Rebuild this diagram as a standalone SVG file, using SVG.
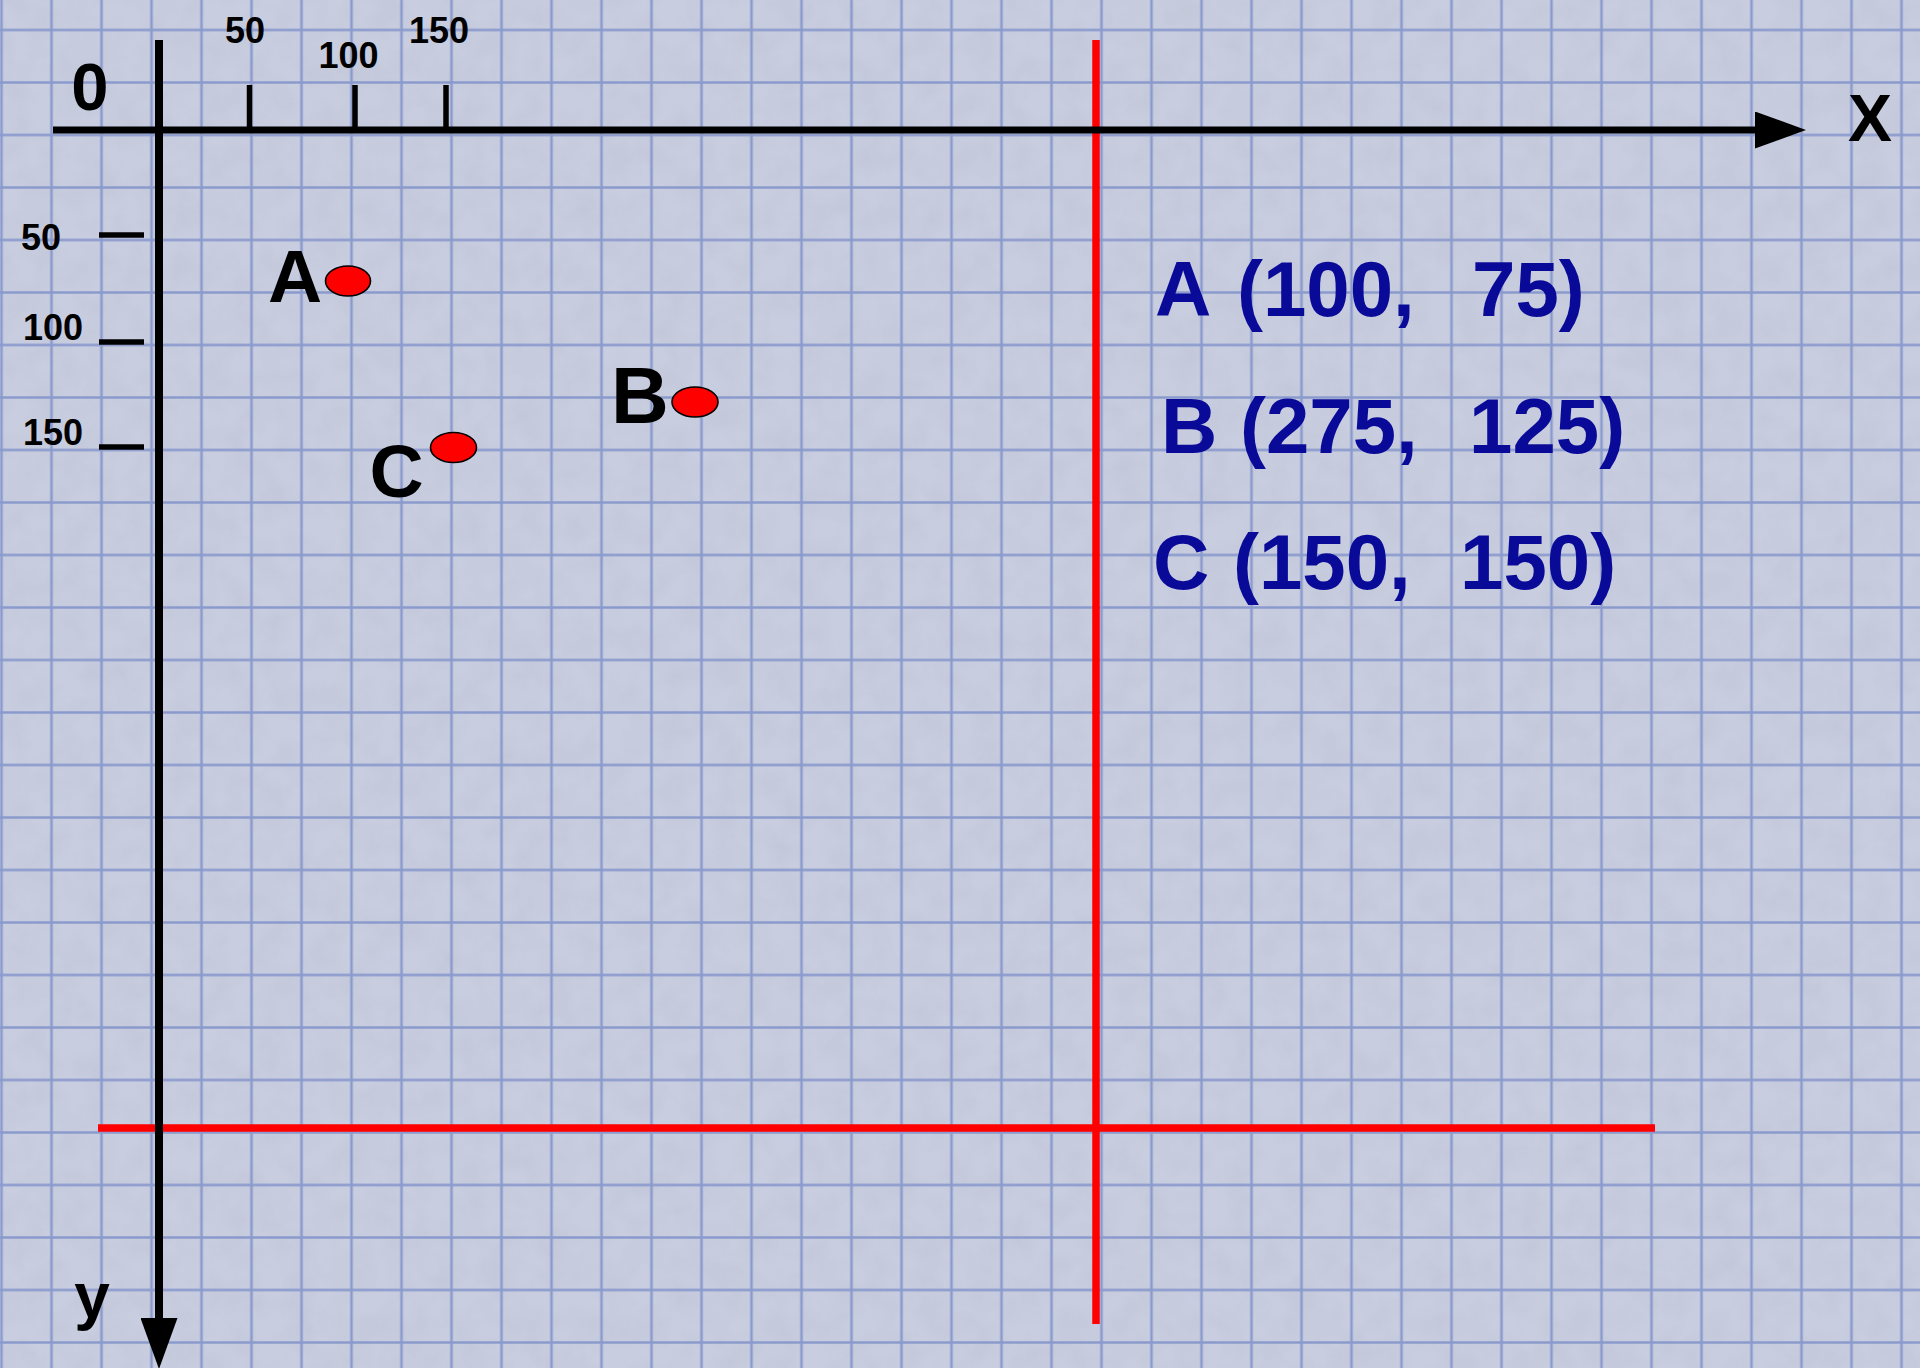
<svg xmlns="http://www.w3.org/2000/svg" width="1920" height="1368" viewBox="0 0 1920 1368">
  <style>
    .lbl { font-family: "Liberation Sans", Arial, sans-serif; font-weight: bold; fill: #000; }
    .tick-lbl { font-size: 36px; text-anchor: middle; }
    .coord { font-family: "Liberation Sans", Arial, sans-serif; font-weight: bold; font-size: 78px; fill: #0a0a99; }
    .axis { stroke: #000; fill: none; }
    .tick { stroke: #000; stroke-width: 5.5; }
    .red { stroke: #ff0000; stroke-width: 7.5; }
    .dot { fill: #ff0000; stroke: #000; stroke-width: 1.6; }
  </style>
  <defs>
    <pattern id="gridPat" patternUnits="userSpaceOnUse" x="-23.5" y="3.75" width="50" height="52.5">
      <path d="M25 0 V52.5 M0 26.25 H50" stroke="#8a9acd" stroke-width="2.6" fill="none"/>
    </pattern>
    <filter id="paper" x="0" y="0" width="100%" height="100%">
      <feTurbulence type="fractalNoise" baseFrequency="0.035" numOctaves="4" seed="7" result="n"/>
      <feColorMatrix in="n" type="matrix" values="0 0 0 0 0.45  0 0 0 0 0.47  0 0 0 0 0.55  0 0 0 0.9 -0.3"/>
    </filter>
    <marker id="arrow" markerUnits="userSpaceOnUse" markerWidth="51" markerHeight="37" viewBox="0 0 51 37" refX="0" refY="18.5" orient="auto">
      <path d="M0 0 L51 18.5 L0 37 Z" fill="#000"/>
    </marker>
  </defs>

  <g id="paper-bg">
    <rect x="0" y="0" width="1920" height="1368" fill="#c8cde0"/>
    <rect x="0" y="0" width="1920" height="1368" filter="url(#paper)" opacity="0.45"/>
    <rect x="0" y="0" width="1920" height="1368" fill="url(#gridPat)"/>
  </g>

  <g id="connectors">
    <line id="red-vertical" class="red" x1="1096" y1="40" x2="1096" y2="1324"/>
    <line id="red-horizontal" class="red" x1="98" y1="1128" x2="1655" y2="1128"/>
    <line id="x-axis" class="axis" stroke-width="7" x1="53" y1="130" x2="1755" y2="130" marker-end="url(#arrow)"/>
    <line id="y-axis" class="axis" stroke-width="8" x1="159" y1="40" x2="159" y2="1318" marker-end="url(#arrow)"/>
  </g>

  <g id="ticks">
    <line class="tick" x1="249.5" y1="85" x2="249.5" y2="130"/>
    <line class="tick" x1="355" y1="85" x2="355" y2="130"/>
    <line class="tick" x1="446" y1="85" x2="446" y2="130"/>
    <line class="tick" x1="99" y1="235" x2="144" y2="235"/>
    <line class="tick" x1="99" y1="342" x2="144" y2="342"/>
    <line class="tick" x1="99" y1="447" x2="144" y2="447"/>
  </g>

  <g id="axis-labels">
    <text class="lbl" x="90" y="110" font-size="67" text-anchor="middle">0</text>
    <text class="lbl" x="1870" y="141" font-size="66" text-anchor="middle">X</text>
    <text class="lbl" x="92" y="1318" font-size="64" text-anchor="middle">y</text>
    <text class="lbl tick-lbl" x="245" y="43">50</text>
    <text class="lbl tick-lbl" x="348.5" y="68">100</text>
    <text class="lbl tick-lbl" x="439" y="43">150</text>
    <text class="lbl tick-lbl" x="41" y="250">50</text>
    <text class="lbl tick-lbl" x="53" y="340">100</text>
    <text class="lbl tick-lbl" x="53" y="445">150</text>
  </g>

  <g id="point-A">
    <ellipse class="dot" cx="348" cy="281" rx="22.5" ry="15"/>
    <text class="lbl" x="295" y="302" font-size="75" text-anchor="middle">A</text>
  </g>
  <g id="point-B">
    <ellipse class="dot" cx="695" cy="402" rx="23" ry="15"/>
    <text class="lbl" x="640" y="423" font-size="80" text-anchor="middle">B</text>
  </g>
  <g id="point-C">
    <ellipse class="dot" cx="453.5" cy="447.5" rx="23" ry="15"/>
    <text class="lbl" x="396.5" y="497" font-size="75" text-anchor="middle">C</text>
  </g>

  <g id="coordinates">
    <text class="coord" y="316"><tspan x="1155">A </tspan><tspan x="1237">(100, </tspan><tspan x="1472">75)</tspan></text>
    <text class="coord" y="453"><tspan x="1161">B </tspan><tspan x="1240">(275, </tspan><tspan x="1469">125)</tspan></text>
    <text class="coord" y="589"><tspan x="1153">C </tspan><tspan x="1233">(150, </tspan><tspan x="1460">150)</tspan></text>
  </g>
</svg>
